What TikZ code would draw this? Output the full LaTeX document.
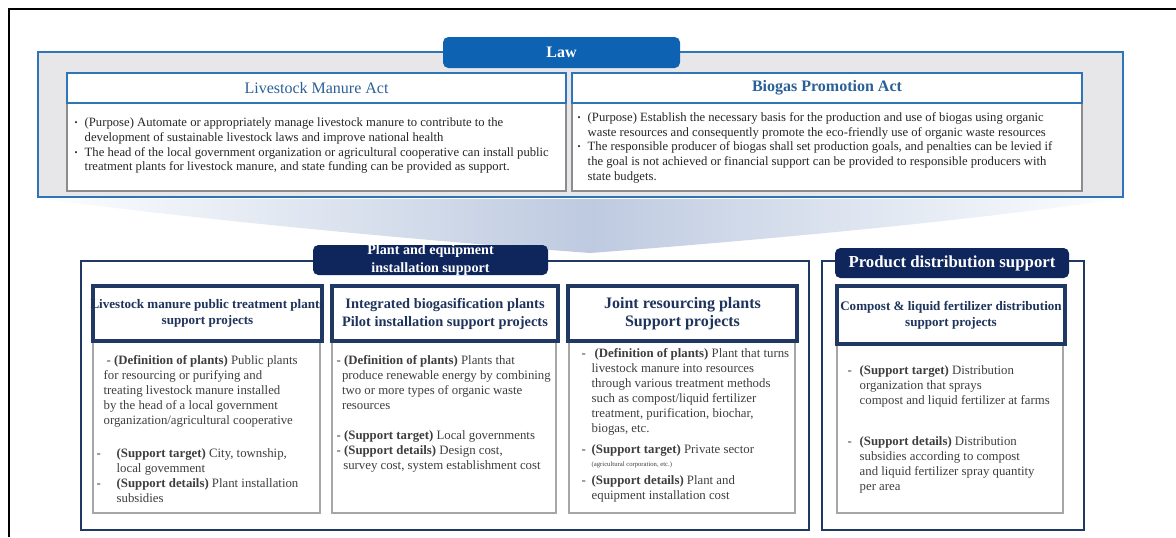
\documentclass[tikz,border=0pt]{standalone}
\usepackage{fontspec}
\setmainfont{Liberation Serif}
\usepackage{xcolor}
\usetikzlibrary{positioning, fit}

\definecolor{lawblue}{RGB}{46,117,182}
\definecolor{lawtabblue}{RGB}{14,98,178}
\definecolor{lawgray}{RGB}{231,231,233}
\definecolor{acttext}{RGB}{42,96,152}
\definecolor{navy}{RGB}{14,38,92}
\definecolor{navyline}{RGB}{31,56,100}
\definecolor{navytext}{RGB}{30,52,92}
\definecolor{bodytext}{RGB}{62,62,62}
\definecolor{funtop}{RGB}{252,253,255}
\definecolor{funmid}{RGB}{222,229,240}
\definecolor{funbot}{RGB}{190,202,224}

\newcommand{\blt}{\makebox[7.5pt][l]{\raisebox{0.8pt}{\fontsize{6.5}{7}\selectfont\textbullet}}}
\newcommand{\bltpad}{\hspace*{7.5pt}}
\newcommand{\dsh}[1]{\makebox[#1][l]{-}}

\begin{document}
\begin{tikzpicture}[
  x=0.75pt, y=-0.75pt,
  lawframe/.style={draw=lawblue, line width=1.5pt, fill=lawgray, inner sep=0pt},
  lawtab/.style={fill=lawtabblue, rounded corners=4pt, inner sep=0pt},
  acthead/.style={draw=lawblue, line width=1.6pt, fill=white, inner sep=0pt},
  actlabel/.style={inner sep=0pt, text=acttext, font=\fontsize{12}{14}\selectfont},
  actbody/.style={draw=black!45, line width=0.8pt, fill=white, inner sep=0pt},
  acttxt/.style={anchor=north west, inner sep=0pt, align=left, text=black!85,
                 font=\fontsize{9.5}{11}\selectfont},
  funleft/.style={left color=funtop, right color=funbot, middle color=funmid},
  funright/.style={left color=funbot, right color=funtop, middle color=funmid},
  supframe/.style={draw=navyline, line width=1.2pt, fill=white, inner sep=0pt},
  suptab/.style={fill=navy, rounded corners=4pt, inner sep=0pt},
  tablabel/.style={inner sep=0pt, text=white, align=center},
  projhead/.style={draw=navyline, line width=2.4pt, fill=white, inner sep=0pt},
  headlabel/.style={inner sep=0pt, text=navytext, align=center},
  projbody/.style={draw=black!35, line width=0.9pt, fill=white, inner sep=0pt},
  projtxt/.style={anchor=north west, inner sep=0pt, align=left, text=bodytext,
                  font=\fontsize{9.6}{11.2}\selectfont},
]
\useasboundingbox (0,0) rectangle (1176,537);
% page frame
\draw[line width=2.2pt] (9,537) -- (9,9) -- (1176,9);

% law part
\node[lawframe, fit={(38,52) (1123,197)}] (law) {};
\node[lawtab, fit={(443,37) (680,68)}] (lawtab) {};
\node[tablabel, font=\bfseries\fontsize{12}{14}\selectfont] (lawlbl) at (lawtab) {Law};
\node[actbody, fit={(67,103) (566,191)}] (lmbody) {};
\node[acthead, fit={(67,73) (566,103)}] (lmhead) {};
\node[actlabel] (lmlbl) at (lmhead) {Livestock Manure Act};
\node[actbody, fit={(572,103) (1082,191)}] (bgbody) {};
\node[acthead, fit={(572,73) (1082,103)}] (bghead) {};
\node[actlabel, font=\bfseries\fontsize{12}{14}\selectfont] (bglbl) at (bghead) {Biogas Promotion Act};
\node[acttxt, below right=11.5pt and 6pt of lmbody.north west] (lmtxt)
  {\blt(Purpose) Automate or appropriately manage livestock manure to contribute to the\\
   \bltpad development of sustainable livestock laws and improve national health\\
   \blt The head of the local government organization or agricultural cooperative can install public\\
   \bltpad treatment plants for livestock manure, and state funding can be provided as support.};
\node[acttxt, below right=7.5pt and 4.5pt of bgbody.north west] (bgtxt)
  {\blt(Purpose) Establish the necessary basis for the production and use of biogas using organic\\
   \bltpad waste resources and consequently promote the eco-friendly use of organic waste resources\\
   \blt The responsible producer of biogas shall set production goals, and penalties can be levied if\\
   \bltpad the goal is not achieved or financial support can be provided to responsible producers with\\
   \bltpad state budgets.};

% funnel
\coordinate (tip) at (590,253);
\shade[funleft] (42,199) -- (590,199) -- (tip) .. controls (430,241) and (220,222) .. (42,199) -- cycle;
\shade[funright] (590,199) -- (1120,199) .. controls (960,222) and (750,241) .. (tip) -- cycle;

% plant and equipment installation support
\node[supframe, fit={(81,261) (809,530)}] (plant) {};
\node[suptab, fit={(313,245) (548,275)}] (planttab) {};
\node[tablabel, font=\bfseries\fontsize{10.6}{13}\selectfont] (plantlbl) at (planttab)
  {Plant and equipment\\installation support};

\node[projbody, fit={(93,341) (320,513)}] (pubbody) {};
\node[projhead, fit={(93,286) (322,341)}] (pubhead) {};
\node[headlabel, font=\bfseries\fontsize{9.8}{12}\selectfont] (publbl) at (pubhead)
  {Livestock manure public treatment plants\\support projects};
\node[projtxt, below right=11.25pt and 3pt of pubbody.north west] (pubtxt)
  {\hspace*{7.5pt}- \textbf{(Definition of plants)} Public plants\\
   \hspace*{5.25pt}for resourcing or purifying and\\
   \hspace*{5.25pt}treating livestock manure installed\\
   \hspace*{5.25pt}by the head of a local government\\
   \hspace*{5.25pt}organization/agricultural cooperative\\[13.5pt]
   \dsh{15pt}\textbf{(Support target)} City, township,\\
   \hspace*{15pt}local govemment\\
   \dsh{15pt}\textbf{(Support details)} Plant installation\\
   \hspace*{15pt}subsidies};

\node[projbody, fit={(332,341) (556,513)}] (biobody) {};
\node[projhead, fit={(332,286) (558,341)}] (biohead) {};
\node[headlabel, font=\bfseries\fontsize{10.8}{13.5}\selectfont] (biolbl) at (biohead)
  {Integrated biogasification plants\\Pilot installation support projects};
\node[projtxt, below right=11.25pt and 3.75pt of biobody.north west] (biotxt)
  {- \textbf{(Definition of plants)} Plants that\\
   \hspace*{4pt}produce renewable energy by combining\\
   \hspace*{4pt}two or more types of organic waste\\
   \hspace*{4pt}resources\\[11.6pt]
   - \textbf{(Support target)} Local governments\\
   - \textbf{(Support details)} Design cost,\\
   \hspace*{5pt}survey cost, system establishment cost};

\node[projbody, fit={(569,341) (795,513)}] (jointbody) {};
\node[projhead, fit={(568,286) (797,341)}] (jointhead) {};
\node[headlabel, font=\bfseries\fontsize{12}{14}\selectfont] (jointlbl) at (jointhead)
  {Joint resourcing plants\\Support projects};
\node[projtxt, below right=6pt and 9.75pt of jointbody.north west] (jointtxt)
  {\dsh{9.75pt}\textbf{(Definition of plants)} Plant that turns\\
   \bltpad livestock manure into resources\\
   \bltpad through various treatment methods\\
   \bltpad such as compost/liquid fertilizer\\
   \bltpad treatment, purification, biochar,\\
   \bltpad biogas, etc.\\[4.5pt]
   \dsh{7.5pt}\textbf{(Support target)} Private sector\\[-1.5pt]
   \bltpad{\fontsize{5}{6}\selectfont (agricultural corporation, etc.)}\\[2.3pt]
   \dsh{7.5pt}\textbf{(Support details)} Plant and\\
   \bltpad equipment installation cost};

% product distribution support
\node[supframe, fit={(822,261) (1084,530)}] (product) {};
\node[suptab, fit={(835,248) (1069,278)}] (producttab) {};
\node[tablabel, font=\bfseries\fontsize{12.6}{14}\selectfont] (productlbl) at (producttab)
  {Product distribution support};
\node[projbody, fit={(837,344) (1063,513)}] (compbody) {};
\node[projhead, fit={(837,286) (1065,344)}] (comphead) {};
\node[headlabel, font=\bfseries\fontsize{9.8}{12}\selectfont] (complbl) at (comphead)
  {Compost \& liquid fertilizer distribution\\support projects};
\node[projtxt, below right=16.5pt and 8.25pt of compbody.north west] (comptxt)
  {\dsh{9pt}\textbf{(Support target)} Distribution\\
   \hspace*{9pt}organization that sprays\\
   \hspace*{9pt}compost and liquid fertilizer at farms\\[19.5pt]
   \dsh{9pt}\textbf{(Support details)} Distribution\\
   \hspace*{9pt}subsidies according to compost\\
   \hspace*{9pt}and liquid fertilizer spray quantity\\
   \hspace*{9pt}per area};
\end{tikzpicture}
\end{document}
